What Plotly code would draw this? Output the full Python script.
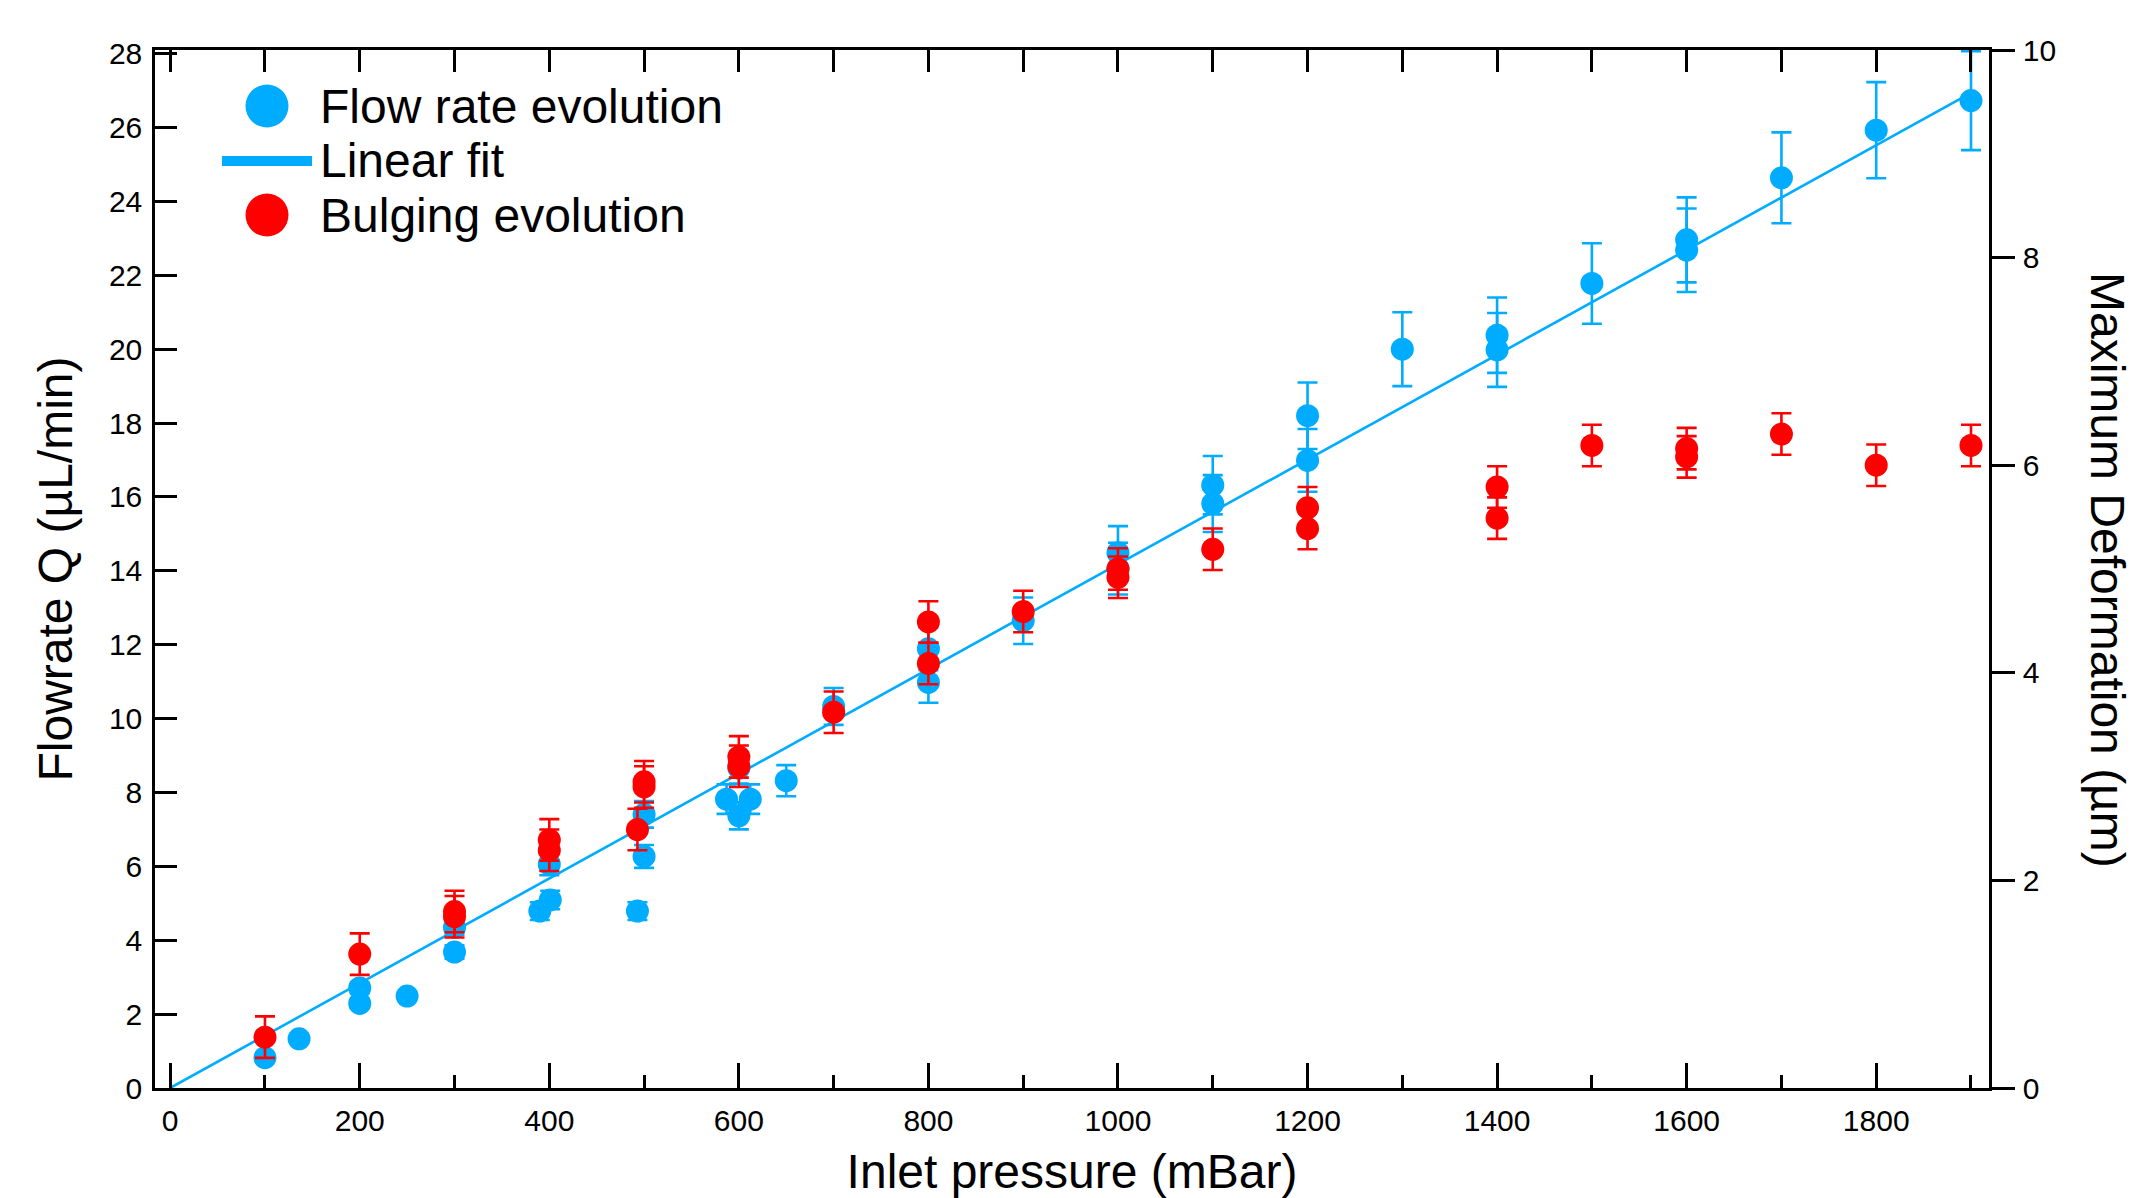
import plotly.graph_objects as go

# ---------------- data ----------------
flow_x = [100, 136, 200, 200, 250, 300, 300, 390, 401, 400, 493, 500, 500,
          587, 600, 600, 612, 650, 700, 800, 800, 900, 1000, 1000, 1100, 1100,
          1200, 1200, 1300, 1400, 1400, 1500, 1600, 1600, 1700, 1800, 1900]
flow_q = [0.82, 1.33, 2.71, 2.29, 2.49, 4.35, 3.68, 4.79, 5.09, 6.06, 4.79, 7.41, 6.27,
          7.82, 8.66, 7.37, 7.82, 8.32, 10.33, 11.89, 10.98, 12.65, 14.49, 14.06, 16.32, 15.82,
          18.20, 16.99, 20.00, 20.38, 19.98, 21.78, 22.96, 22.68, 24.64, 25.93, 26.73]
flow_err = [0.05, 0.07, 0.14, 0.12, 0.12, 0.2, 0.18, 0.24, 0.25, 0.3, 0.24, 0.36, 0.31,
            0.4, 0.42, 0.37, 0.4, 0.42, 0.5, 0.58, 0.55, 0.63, 0.72, 0.7, 0.79, 0.77,
            0.9, 0.85, 1.0, 1.02, 1.0, 1.09, 1.15, 1.13, 1.23, 1.3, 1.34]

bulge_x = [100, 200, 300, 300, 400, 400, 493, 500, 500, 600, 600, 700, 800, 800,
           900, 1000, 1000, 1100, 1200, 1200, 1400, 1400, 1500, 1600, 1600, 1700, 1800, 1900]
bulge_d = [0.49, 1.29, 1.70, 1.65, 2.39, 2.29, 2.49, 2.95, 2.90, 3.19, 3.10, 3.62, 4.49, 4.09,
           4.59, 5.00, 4.92, 5.19, 5.59, 5.39, 5.79, 5.49, 6.19, 6.16, 6.08, 6.30, 6.00, 6.19]
bulge_err = [0.2, 0.2, 0.2, 0.2, 0.2, 0.2, 0.2, 0.2, 0.2, 0.2, 0.2, 0.2, 0.2, 0.2,
             0.2, 0.2, 0.2, 0.2, 0.2, 0.2, 0.2, 0.2, 0.2, 0.2, 0.2, 0.2, 0.2, 0.2]

fit_x = [0, 1900]
fit_slope = 0.01418  # µL/min per mBar

x_major = [0, 200, 400, 600, 800, 1000, 1200, 1400, 1600, 1800]
x_minor = [100, 300, 500, 700, 900, 1100, 1300, 1500, 1700, 1900]
x_top = [0, 100, 200, 300, 400, 500, 600, 700, 800, 900, 1000,
         1100, 1200, 1300, 1400, 1500, 1600, 1700, 1800, 1900]

legend_labels = ["Flow rate evolution", "Linear fit", "Bulging evolution"]

# ---------------- styling ----------------
BLUE = "#00ACFF"
RED = "#FF0000"
FONT = "Liberation Sans, Arial, sans-serif"
OFF = 8                      # default page body margin
WIN_W, WIN_H = 2136, 1198
W, H = WIN_W - OFF, WIN_H - OFF
# plot area in window pixels
P_L, P_R, P_T, P_B = 155, 1989, 50, 1088
ML, MT = P_L - OFF, P_T - OFF
MR, MB = W - (P_R - OFF), H - (P_B - OFF)
PW, PH = P_R - P_L, P_B - P_T


def px_x(p):
    return (p - P_L) / PW


def px_y(p):
    return (P_B - p) / PH


fit_y = [fit_slope * v for v in fit_x]

fig = go.Figure()
fig.add_trace(go.Scatter(x=fit_x, y=fit_y, mode="lines",
                         line=dict(color=BLUE, width=2.6),
                         name=legend_labels[1], showlegend=False,
                         xaxis="x", yaxis="y"))
fig.add_trace(go.Scatter(x=flow_x, y=flow_q, mode="markers",
                         marker=dict(color=BLUE, size=23, line=dict(width=0)),
                         error_y=dict(type="data", array=flow_err, visible=True,
                                      color=BLUE, thickness=2.6, width=10),
                         name=legend_labels[0], showlegend=False,
                         xaxis="x", yaxis="y"))
# empty helper trace so the top (mirror) axis is always drawn
fig.add_trace(go.Scatter(x=[None], y=[None], mode="markers", showlegend=False,
                         hoverinfo="skip", xaxis="x2", yaxis="y"))
fig.add_trace(go.Scatter(x=bulge_x, y=bulge_d, mode="markers",
                         marker=dict(color=RED, size=23, line=dict(width=0)),
                         error_y=dict(type="data", array=bulge_err, visible=True,
                                      color=RED, thickness=2.6, width=10),
                         name=legend_labels[2], showlegend=False,
                         xaxis="x", yaxis="y2"))

axis_common = dict(showgrid=False, zeroline=False, showline=True,
                   linecolor="black", linewidth=2.5,
                   tickcolor="black", tickwidth=2.5,
                   tickfont=dict(family=FONT, size=30, color="black"))

fig.update_layout(
    width=W, height=H,
    margin=dict(l=ML, r=MR, t=MT, b=MB, autoexpand=False),
    paper_bgcolor="white", plot_bgcolor="white",
    showlegend=False,
    font=dict(family=FONT, color="black"),
    xaxis=dict(range=[-16, 1919], tickmode="array", tickvals=x_major,
               ticks="inside", ticklen=25, ticklabelstandoff=4,
               minor=dict(tickmode="array", tickvals=x_minor, ticks="inside",
                          ticklen=13, tickwidth=2.5, tickcolor="black"),
               title=dict(text="Inlet pressure (mBar)",
                          font=dict(family=FONT, size=48, color="black"),
                          standoff=29),
               **axis_common),
    xaxis2=dict(range=[-16, 1919], overlaying="x", side="top", anchor="y",
                tickmode="array", tickvals=x_top, ticks="inside", ticklen=22,
                showticklabels=False, **axis_common),
    yaxis=dict(range=[0, 28.1], tickmode="linear", tick0=0, dtick=2,
               ticks="inside", ticklen=22, ticklabelstandoff=4,
               title=dict(text="Flowrate Q (µL/min)",
                          font=dict(family=FONT, size=48, color="black"),
                          standoff=22),
               **axis_common),
    yaxis2=dict(range=[0, 10], overlaying="y", side="right", anchor="x",
                tickmode="linear", tick0=0, dtick=2,
                ticks="outside", ticklen=23, ticklabelstandoff=2,
                **axis_common),
)

# right axis title, reading top to bottom as in the reference
fig.add_annotation(text="Maximum Deformation (µm)", xref="paper", yref="paper",
                   x=px_x(2108), y=px_y(570), xanchor="center", yanchor="middle",
                   textangle=90, showarrow=False,
                   font=dict(family=FONT, size=48, color="black"))

# hand-drawn legend (large symbols as in the reference)
leg_cx = px_x(267)
leg_rows = [px_y(106), px_y(161), px_y(215)]
R = 21.5
fig.add_shape(type="circle", xref="paper", yref="paper",
              xsizemode="pixel", ysizemode="pixel",
              xanchor=leg_cx, yanchor=leg_rows[0], x0=-R, x1=R, y0=-R, y1=R,
              fillcolor=BLUE, line=dict(width=0))
fig.add_shape(type="line", xref="paper", yref="paper",
              x0=px_x(222), x1=px_x(312), y0=leg_rows[1], y1=leg_rows[1],
              line=dict(color=BLUE, width=10))
fig.add_shape(type="circle", xref="paper", yref="paper",
              xsizemode="pixel", ysizemode="pixel",
              xanchor=leg_cx, yanchor=leg_rows[2], x0=-R, x1=R, y0=-R, y1=R,
              fillcolor=RED, line=dict(width=0))
for lab, yy in zip(legend_labels, leg_rows):
    fig.add_annotation(text=lab, xref="paper", yref="paper",
                       x=px_x(318), y=yy, xanchor="left", yanchor="middle",
                       showarrow=False,
                       font=dict(family=FONT, size=48, color="black"))

fig.write_html("out.html")
